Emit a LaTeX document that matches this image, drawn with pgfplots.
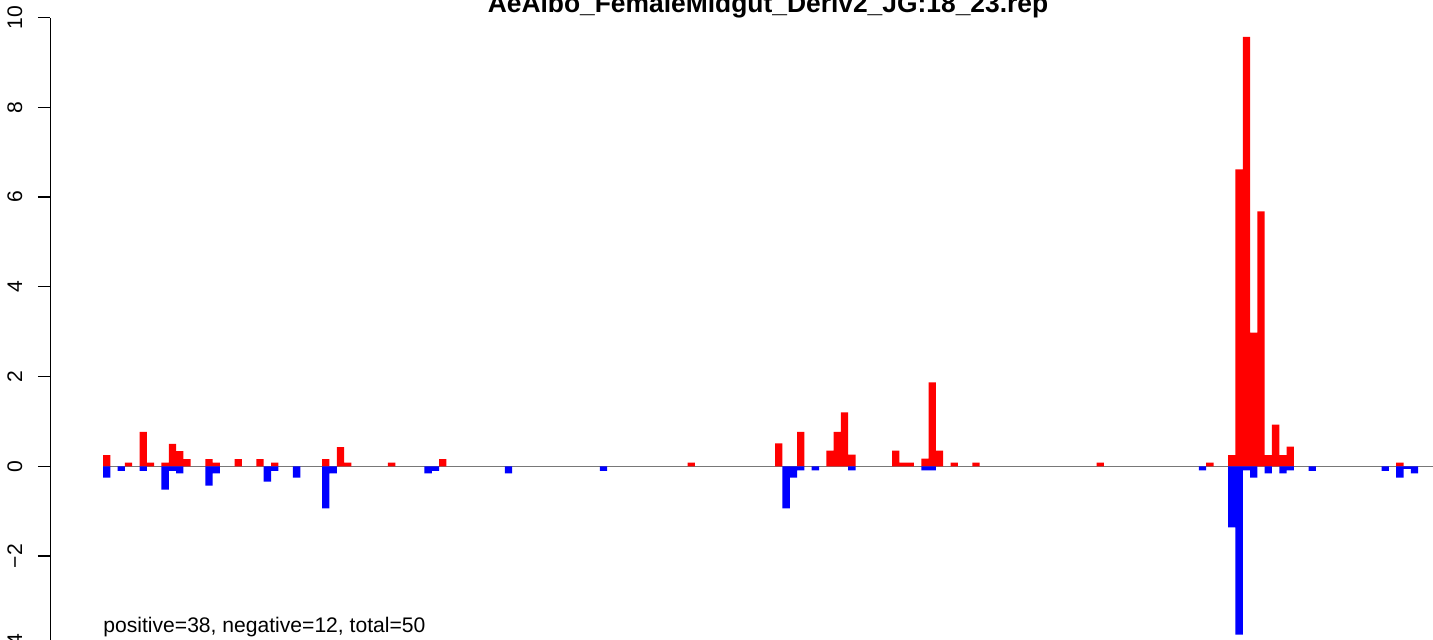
\documentclass[border=0pt]{standalone}
\usepackage{pgfplots}
\pgfplotsset{compat=1.18}
\usepackage{fontspec}
\setmainfont{Liberation Sans}
\definecolor{rred}{RGB}{255,0,0}
\definecolor{rblue}{RGB}{0,0,255}
\definecolor{zline}{RGB}{120,120,120}
\begin{document}
\begin{tikzpicture}
\useasboundingbox (0,0) rectangle (716.5pt,320pt);
\clip (0,0) rectangle (716.5pt,320pt);
\begin{axis}[
  at={(25.2pt,-2.9pt)}, anchor=south west,
  scale only axis, width=710.15pt, height=314.1pt,
  xmin=-7.2, xmax=187.2, ymin=-4, ymax=10,
  axis x line=none, axis y line*=left,
  xtick=\empty,
  ytick={-4,-2,0,2,4,6,8,10},
  yticklabels={−4,−2,0,2,4,6,8,10},
  tick align=outside, major tick length=6.3pt,
  tick style={black, line width=0.65pt},
  axis line style={black, line width=0.65pt},
  yticklabel shift=7.9pt,
  yticklabel style={rotate=90, anchor=base, inner sep=0pt,
    font=\fontsize{10.55}{12}\selectfont},
]
\addplot[draw=zline, line width=0.65pt] coordinates {(0,0) (187.2,0)};
\addplot[ybar, bar width=1, bar shift=0pt, fill=rred, draw=none] coordinates {
(0.5,0.25) (3.5,0.08) (5.5,0.77) (6.5,0.08) (8.5,0.08) (9.5,0.50) (10.5,0.34) (11.5,0.16)
(14.5,0.16) (15.5,0.08) (18.5,0.16) (21.5,0.16) (23.5,0.08) (30.5,0.16) (32.5,0.43) (33.5,0.08)
(39.5,0.08) (46.5,0.16) (80.5,0.08) (92.5,0.51) (95.5,0.77) (99.5,0.35) (100.5,0.77) (101.5,1.20)
(102.5,0.26) (108.5,0.35) (109.5,0.08) (110.5,0.08) (112.5,0.17) (113.5,1.87) (114.5,0.35)
(116.5,0.08) (119.5,0.08) (136.5,0.08) (151.5,0.08) (154.5,0.25) (155.5,6.62) (156.5,9.57)
(157.5,2.98) (158.5,5.68) (159.5,0.25) (160.5,0.93) (161.5,0.25) (162.5,0.44) (177.5,0.08)
};
\addplot[ybar, bar width=1, bar shift=0pt, fill=rblue, draw=none] coordinates {
(0.5,-0.25) (2.5,-0.10) (5.5,-0.10) (8.5,-0.52) (9.5,-0.10) (10.5,-0.16) (14.5,-0.43) (15.5,-0.16)
(22.5,-0.34) (23.5,-0.10) (26.5,-0.25) (30.5,-0.94) (31.5,-0.16) (44.5,-0.16) (45.5,-0.10)
(55.5,-0.16) (68.5,-0.10) (93.5,-0.94) (94.5,-0.25) (95.5,-0.09) (97.5,-0.09) (102.5,-0.09)
(112.5,-0.09) (113.5,-0.09) (150.5,-0.09) (154.5,-1.36) (155.5,-3.75) (156.5,-0.09)
(157.5,-0.25) (159.5,-0.16) (161.5,-0.16) (162.5,-0.09) (165.5,-0.10) (175.5,-0.10)
(177.5,-0.25) (178.5,-0.06) (179.5,-0.16)
};
\end{axis}
\node[anchor=base, inner sep=0pt, font=\fontsize{13.2}{15}\selectfont\bfseries]
  at (384pt,313.75pt) {AeAlbo\_FemaleMidgut\_Deriv2\_JG:18\_23.rep};
\node[anchor=base west, inner sep=0pt, font=\fontsize{10.55}{12}\selectfont]
  at (51.5pt,3.5pt) {positive=38, negative=12, total=50};
\end{tikzpicture}
\end{document}
